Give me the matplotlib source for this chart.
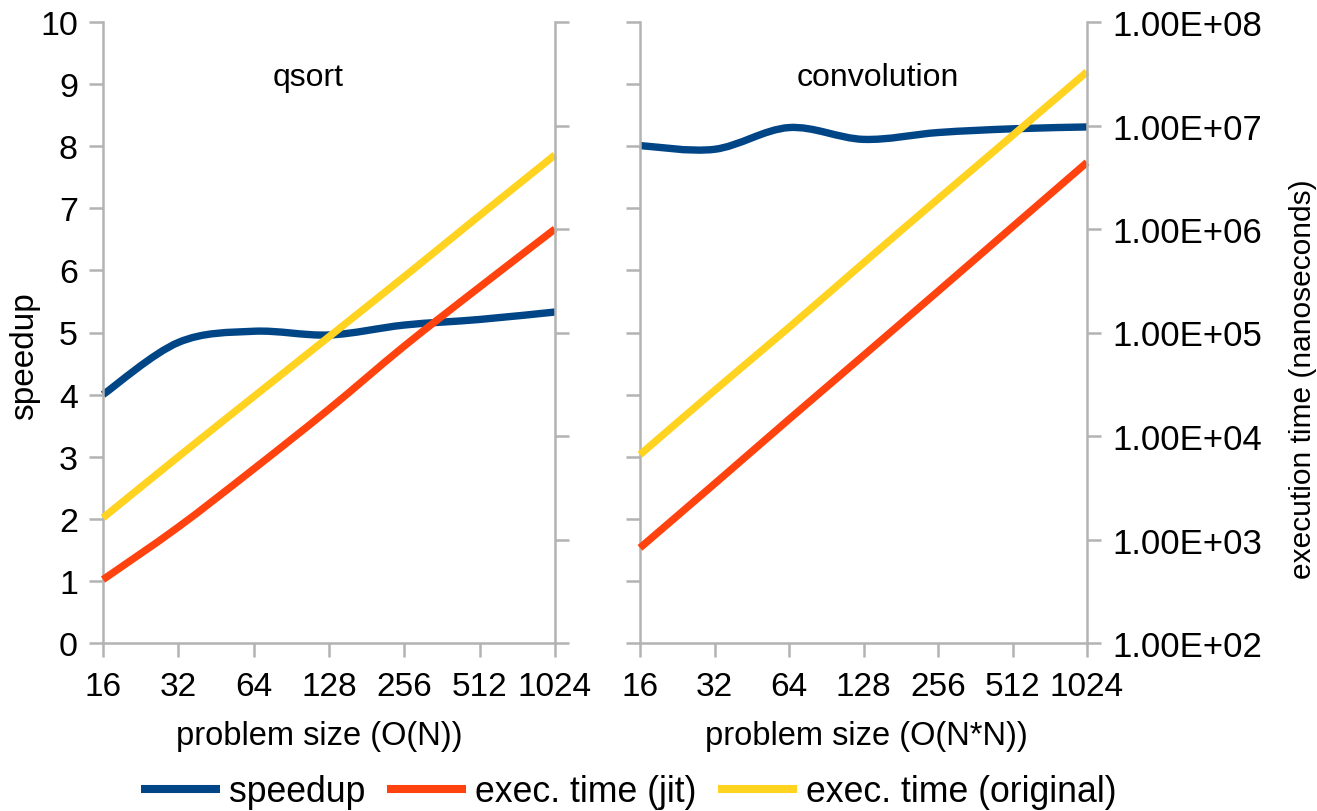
import numpy as np
import matplotlib
matplotlib.use("Agg")
import matplotlib.pyplot as plt
from matplotlib.path import Path
from matplotlib.patches import PathPatch
from matplotlib.lines import Line2D
from matplotlib.ticker import FixedLocator, NullLocator, FuncFormatter

# data
sizes = ["16", "32", "64", "128", "256", "512", "1024"]

qsort_speedup = [4.00, 4.84, 5.02, 4.96, 5.12, 5.21, 5.33]
qsort_jit = [4.1e2, 1.32e3, 4.8e3, 1.82e4, 7.4e4, 2.75e5, 1.0e6]
qsort_orig = [1.62e3, 6.3e3, 2.4e4, 9.1e4, 3.47e5, 1.35e6, 5.2e6]

conv_speedup = [8.01, 7.95, 8.30, 8.11, 8.22, 8.28, 8.31]
conv_jit = [8.3e2, 3.45e3, 1.45e4, 6.0e4, 2.5e5, 1.05e6, 4.4e6]
conv_orig = [6.6e3, 2.75e4, 1.12e5, 4.7e5, 1.95e6, 8.0e6, 3.3e7]

BLUE = "#004586"
RED = "#ff420e"
YELLOW = "#ffd320"
GREY = "#b3b3b3"
plt.rcParams["font.family"] = ["Liberation Sans", "DejaVu Sans"]

W, H = 1317, 812


def smooth(xs, ys):
    # catmull-rom segments as cubic bezier, like the office spline
    pts = list(zip(xs, ys))
    n = len(pts)
    verts = [pts[0]]
    codes = [Path.MOVETO]
    for i in range(n - 1):
        p0 = pts[max(i - 1, 0)]
        p1 = pts[i]
        p2 = pts[i + 1]
        p3 = pts[min(i + 2, n - 1)]
        c1 = (p1[0] + (p2[0] - p0[0]) / 6, p1[1] + (p2[1] - p0[1]) / 6)
        c2 = (p2[0] - (p3[0] - p1[0]) / 6, p2[1] - (p3[1] - p1[1]) / 6)
        verts += [c1, c2, p2]
        codes += [Path.CURVE4] * 3
    return verts, codes


def draw_line(ax, vals, color, log=False):
    x = np.arange(len(vals))
    y = np.log10(vals) if log else np.asarray(vals, float)
    verts, codes = smooth(x, y)
    if log:
        verts = [(vx, 10 ** vy) for vx, vy in verts]
    patch = PathPatch(Path(verts, codes), fill=False, edgecolor=color,
                      lw=5.3, capstyle="butt", joinstyle="round", clip_on=False)
    ax.add_patch(patch)


def panel(rect, speed, jit, orig, title, title_x, left_labels, right_labels):
    ax = fig.add_axes(rect)
    ax2 = ax.twinx()
    ax.set_xlim(0, len(sizes) - 1)
    ax.set_ylim(0, 10)
    ax2.set_yscale("log")
    ax2.set_ylim(1e2, 1e8)

    for s in ["top", "right"]:
        ax.spines[s].set_visible(False)
    for s in ["top", "left", "bottom"]:
        ax2.spines[s].set_visible(False)
    for sp in [ax.spines["left"], ax.spines["bottom"], ax2.spines["right"]]:
        sp.set_color(GREY)
        sp.set_linewidth(1.8)

    ax.set_xticks(range(len(sizes)))
    ax.set_xticklabels(sizes, fontsize=24)
    ax.yaxis.set_major_locator(FixedLocator(range(0, 11)))
    if left_labels:
        ax.set_yticklabels([str(v) for v in range(0, 11)], fontsize=24.5)
    else:
        ax.set_yticklabels([])
    ax.tick_params(axis="x", direction="out", length=10, width=1.8, color=GREY, pad=10)
    ax.tick_params(axis="y", direction="out", length=10, width=1.8, color=GREY, pad=8)

    ax2.yaxis.set_major_locator(FixedLocator([10.0 ** k for k in range(2, 9)]))
    ax2.yaxis.set_minor_locator(NullLocator())
    if right_labels:
        ax2.yaxis.set_major_formatter(FuncFormatter(lambda v, p: f"{v:.2E}"))
        ax2.tick_params(axis="y", labelsize=25)
    else:
        ax2.yaxis.set_major_formatter(FuncFormatter(lambda v, p: ""))
    ax2.tick_params(axis="y", which="both", direction="out", length=10, width=1.8,
                    color=GREY, pad=8)

    draw_line(ax, speed, BLUE)
    draw_line(ax2, jit, RED, log=True)
    draw_line(ax2, orig, YELLOW, log=True)

    fig.text(title_x / W, 1 - 86 / H, title, ha="center", va="baseline", fontsize=23)
    return ax, ax2


fig = plt.figure(figsize=(W / 100, H / 100), dpi=100)

axL, axL2 = panel([103 / W, 168 / H, 452 / W, 621 / H],
                  qsort_speedup, qsort_jit, qsort_orig, "qsort", 308, True, False)
axR, axR2 = panel([640 / W, 168 / H, 447 / W, 621 / H],
                  conv_speedup, conv_jit, conv_orig, "convolution", 878, False, True)

fig.text(319 / W, 1 - 745 / H, "problem size (O(N))", ha="center", va="baseline", fontsize=23.5)
fig.text(866 / W, 1 - 745 / H, "problem size (O(N*N))", ha="center", va="baseline", fontsize=23.5)
fig.text(25 / W, 1 - 356 / H, "speedup", rotation=90, ha="center", va="center", fontsize=24)
fig.text(1303 / W, 1 - 379 / H, "execution time (nanoseconds)", rotation=90,
         ha="center", va="center", fontsize=21.5)

handles = [Line2D([], [], color=c, lw=5.8, solid_capstyle="butt") for c in (BLUE, RED, YELLOW)]
fig.legend(handles, ["speedup", "exec. time (jit)", "exec. time (original)"],
           loc="center", bbox_to_anchor=(629 / W, 1 - 793 / H), ncol=3, frameon=False,
           fontsize=25.7, handlelength=2.2, handletextpad=0.25, columnspacing=0.62,
           borderpad=0.1)

fig.savefig("out.png", dpi=100)
